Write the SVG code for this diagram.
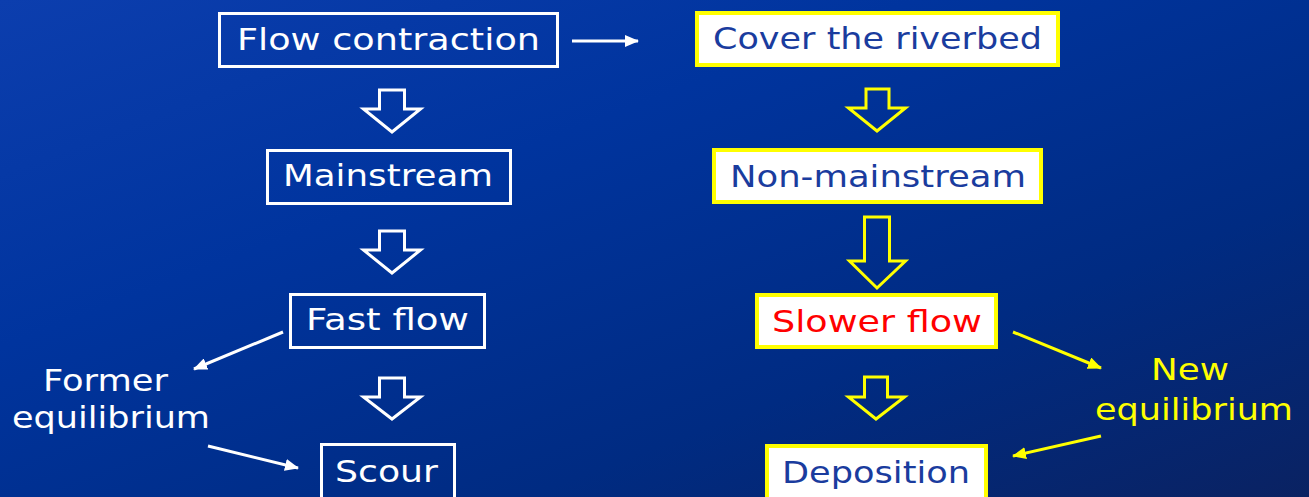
<svg xmlns="http://www.w3.org/2000/svg" width="1309" height="497" viewBox="0 0 1309 497">
<defs>
<linearGradient id="bg" x1="0" y1="0" x2="1" y2="1">
<stop offset="0" stop-color="#0c3eae"/>
<stop offset="0.35" stop-color="#00349e"/>
<stop offset="0.7" stop-color="#002b82"/>
<stop offset="1" stop-color="#0a2262"/>
</linearGradient>
<marker id="ahw" markerUnits="userSpaceOnUse" markerWidth="14" markerHeight="12" refX="13" refY="6" orient="auto"><path d="M0,0 L14,6 L0,12 z" fill="#ffffff"/></marker>
<marker id="ahy" markerUnits="userSpaceOnUse" markerWidth="14" markerHeight="12" refX="13" refY="6" orient="auto"><path d="M0,0 L14,6 L0,12 z" fill="#ffff00"/></marker>
<style>
.t{font-family:"DejaVu Sans","Liberation Sans",sans-serif;font-size:31px}
.bw{fill:none;stroke:#ffffff;stroke-width:3}
.by{fill:#ffffff;stroke:#ffff00;stroke-width:4}
.tw{fill:#ffffff}
.tb{fill:#1a3c9e}
.tr{fill:#ff0000}
.ty{fill:#ffff00}
.aw{fill:none;stroke:#ffffff;stroke-width:3;stroke-linejoin:miter}
.ay{fill:none;stroke:#ffff00;stroke-width:3;stroke-linejoin:miter}
.cw{stroke:#ffffff;stroke-width:3;fill:none;marker-end:url(#ahw)}
.cy{stroke:#ffff00;stroke-width:3;fill:none;marker-end:url(#ahy)}
</style>
</defs>
<rect width="1309" height="497" fill="url(#bg)"/>

<g id="flow-contraction">
<rect class="bw" x="219.5" y="13.5" width="338" height="53"/>
<text class="t tw" x="237" y="50" textLength="303" lengthAdjust="spacingAndGlyphs">Flow contraction</text>
</g>
<g id="mainstream">
<rect class="bw" x="267.5" y="150.5" width="243" height="53"/>
<text class="t tw" x="283" y="186" textLength="210" lengthAdjust="spacingAndGlyphs">Mainstream</text>
</g>
<g id="fast-flow">
<rect class="bw" x="290.5" y="294.5" width="194" height="53"/>
<text class="t tw" x="306" y="330" textLength="163" lengthAdjust="spacingAndGlyphs">Fast flow</text>
</g>
<g id="scour">
<rect class="bw" x="321.5" y="444.5" width="133" height="70"/>
<text class="t tw" x="335" y="482" textLength="103" lengthAdjust="spacingAndGlyphs">Scour</text>
</g>
<g id="former-equilibrium">
<text class="t tw" x="43" y="391" textLength="125" lengthAdjust="spacingAndGlyphs">Former</text>
<text class="t tw" x="12" y="428" textLength="198" lengthAdjust="spacingAndGlyphs">equilibrium</text>
</g>

<g id="cover-riverbed">
<rect class="by" x="697" y="13" width="361" height="52"/>
<text class="t tb" x="713" y="49" textLength="329" lengthAdjust="spacingAndGlyphs">Cover the riverbed</text>
</g>
<g id="non-mainstream">
<rect class="by" x="714" y="150" width="327" height="52"/>
<text class="t tb" x="730" y="187" textLength="296" lengthAdjust="spacingAndGlyphs">Non-mainstream</text>
</g>
<g id="slower-flow">
<rect class="by" x="757" y="295" width="239" height="52"/>
<text class="t tr" x="772" y="332" textLength="210" lengthAdjust="spacingAndGlyphs">Slower flow</text>
</g>
<g id="deposition">
<rect class="by" x="767" y="446" width="219" height="70"/>
<text class="t tb" x="782" y="483" textLength="188" lengthAdjust="spacingAndGlyphs">Deposition</text>
</g>
<g id="new-equilibrium">
<text class="t ty" x="1151" y="380" textLength="78" lengthAdjust="spacingAndGlyphs">New</text>
<text class="t ty" x="1095" y="420" textLength="198" lengthAdjust="spacingAndGlyphs">equilibrium</text>
</g>

<g id="connectors">
<polygon class="aw" points="379.5,90 404.5,90 404.5,109 420.5,109 392,132 363.5,109 379.5,109"/>
<polygon class="aw" points="379.5,231 404.5,231 404.5,250 420.5,250 392,273 363.5,250 379.5,250"/>
<polygon class="aw" points="379.5,378 404.5,378 404.5,397 420.5,397 392,419 363.5,397 379.5,397"/>
<polygon class="ay" points="866,89 889,89 889,108 905.5,108 877,131 848.5,108 866,108"/>
<polygon class="ay" points="864.5,217 889.5,217 889.5,261 905.5,261 877,288 849.5,261 864.5,261"/>
<polygon class="ay" points="864.5,377 887.5,377 887.5,397 904.5,397 876,419 848.5,397 864.5,397"/>
<line class="cw" x1="572" y1="41" x2="638" y2="41"/>
<line class="cw" x1="283" y1="332" x2="194" y2="369"/>
<line class="cw" x1="208" y1="446" x2="298" y2="468"/>
<line class="cy" x1="1013" y1="332" x2="1101" y2="368"/>
<line class="cy" x1="1101" y1="436" x2="1013" y2="456"/>
</g>
</svg>
